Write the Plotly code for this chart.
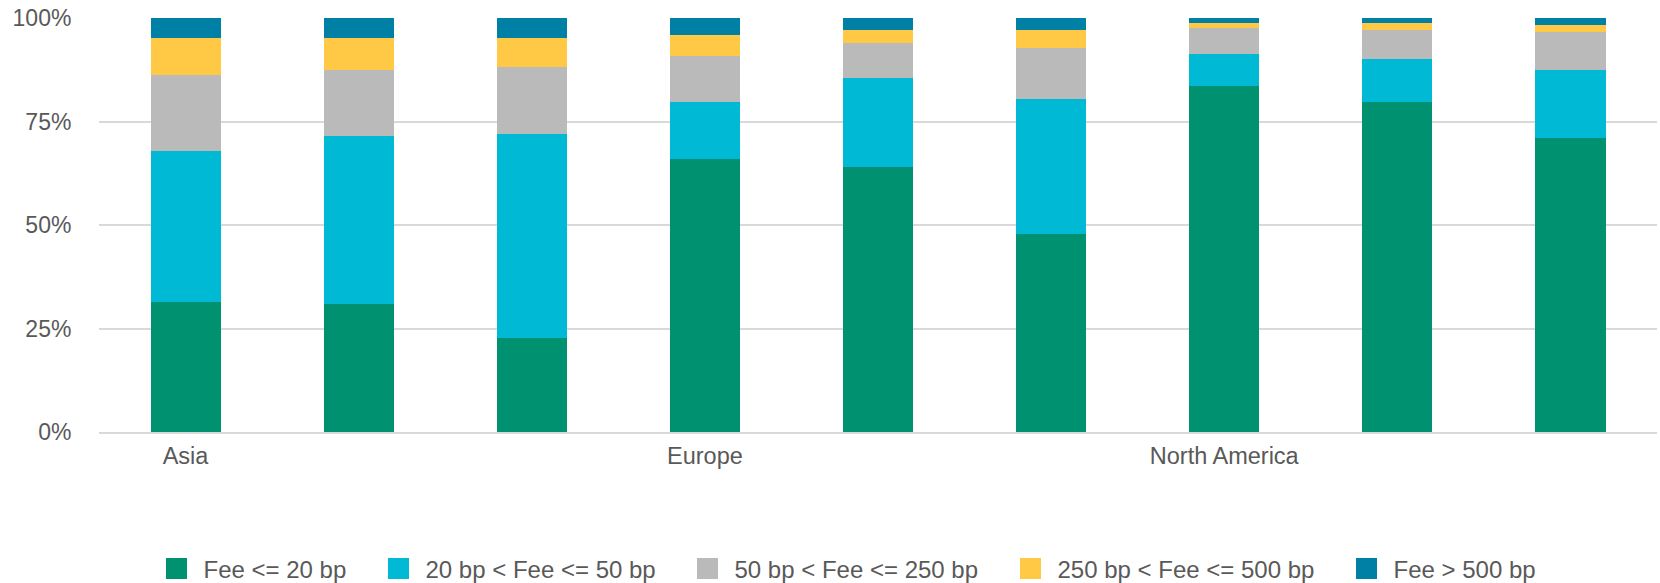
import plotly.graph_objects as go

regions = ["Asia", "Asia", "Asia", "Europe", "Europe", "Europe",
           "North America", "North America", "North America"]

series_names = ["Fee <= 20 bp", "20 bp < Fee <= 50 bp", "50 bp < Fee <= 250 bp",
                "250 bp < Fee <= 500 bp", "Fee > 500 bp"]

fee_le_20 = [31.5, 31.0, 22.8, 65.9, 63.9, 47.9, 83.6, 79.8, 70.9]
fee_20_50 = [36.3, 40.4, 49.3, 13.9, 21.6, 32.6, 7.7, 10.3, 16.5]
fee_50_250 = [18.4, 16.1, 16.0, 11.1, 8.4, 12.2, 6.4, 6.9, 9.1]
fee_250_500 = [8.9, 7.6, 7.0, 4.9, 3.1, 4.3, 1.2, 1.9, 1.7]
fee_gt_500 = [4.9, 4.9, 4.9, 4.2, 3.0, 3.0, 1.1, 1.1, 1.8]

colors = ["#009170", "#00BAD5", "#BABABA", "#FFC845", "#0080A4"]

y_ticks = [0, 25, 50, 75, 100]
y_tick_labels = ["0%", "25%", "50%", "75%", "100%"]

series = [fee_le_20, fee_20_50, fee_50_250, fee_250_500, fee_gt_500]
x = list(range(len(regions)))

# tick only at the first bar of each region
tickvals, ticktext = [], []
for i, r in enumerate(regions):
    if i == 0 or regions[i - 1] != r:
        tickvals.append(i)
        ticktext.append(r)

W, H = 1660, 583
ML, MR, MT, MB = 99, 3, 18, 151
plot_w = W - ML - MR
plot_h = H - MT - MB

# legend entry left edges (pixels) – layout only
legend_px = [149.5, 371.5, 680.5, 1003.5, 1339.5]
legend_center_py = 569

fig = go.Figure()
for k, (name, vals, col) in enumerate(zip(series_names, series, colors)):
    fig.add_trace(go.Bar(x=x, y=vals, name=name, showlegend=False,
                         marker=dict(color=col, line=dict(width=0))))
for k, (name, col) in enumerate(zip(series_names, colors)):
    lg = "legend" if k == 0 else f"legend{k + 1}"
    fig.add_trace(go.Scatter(x=[None], y=[None], mode="markers", name=name,
                             marker=dict(symbol="square", size=16, color=col,
                                         line=dict(width=6, color=col)),
                             legend=lg, showlegend=True))

font_family = "Liberation Sans, Arial, sans-serif"
legend_common = dict(orientation="h", yanchor="middle", xanchor="left",
                     y=(MT + plot_h - legend_center_py) / plot_h,
                     font=dict(size=24, color="#595959", family=font_family),
                     itemwidth=44, bgcolor="rgba(0,0,0,0)", borderwidth=0,
                     itemsizing="trace")
layout_legends = {}
for k, px in enumerate(legend_px):
    lg = "legend" if k == 0 else f"legend{k + 1}"
    layout_legends[lg] = dict(legend_common, x=(px - ML) / plot_w)

fig.update_layout(
    barmode="stack",
    bargap=0.595,
    width=W, height=H,
    margin=dict(l=ML, r=MR, t=MT, b=MB, autoexpand=False),
    plot_bgcolor="white", paper_bgcolor="white",
    font=dict(family=font_family, size=23, color="#595959"),
    showlegend=True,
    **layout_legends,
)
fig.update_xaxes(
    tickmode="array", tickvals=tickvals, ticktext=ticktext,
    range=[-0.5, len(regions) - 0.5],
    showgrid=False, zeroline=False,
    showline=True, linecolor="#D9D9D9", linewidth=2,
    ticks="outside", ticklen=2, tickcolor="rgba(0,0,0,0)",
    tickfont=dict(size=23.5, color="#595959"),
)
fig.update_yaxes(
    range=[0, 100], tickmode="array", tickvals=y_ticks, ticktext=y_tick_labels,
    showgrid=True, gridcolor="#D9D9D9", gridwidth=2,
    zeroline=False, showline=False,
    ticks="outside", ticklen=22, tickcolor="rgba(0,0,0,0)",
    tickfont=dict(size=23, color="#595959"),
)
fig.write_html("out.html", config={"displayModeBar": False},
               post_script="document.body.style.margin='0';")
